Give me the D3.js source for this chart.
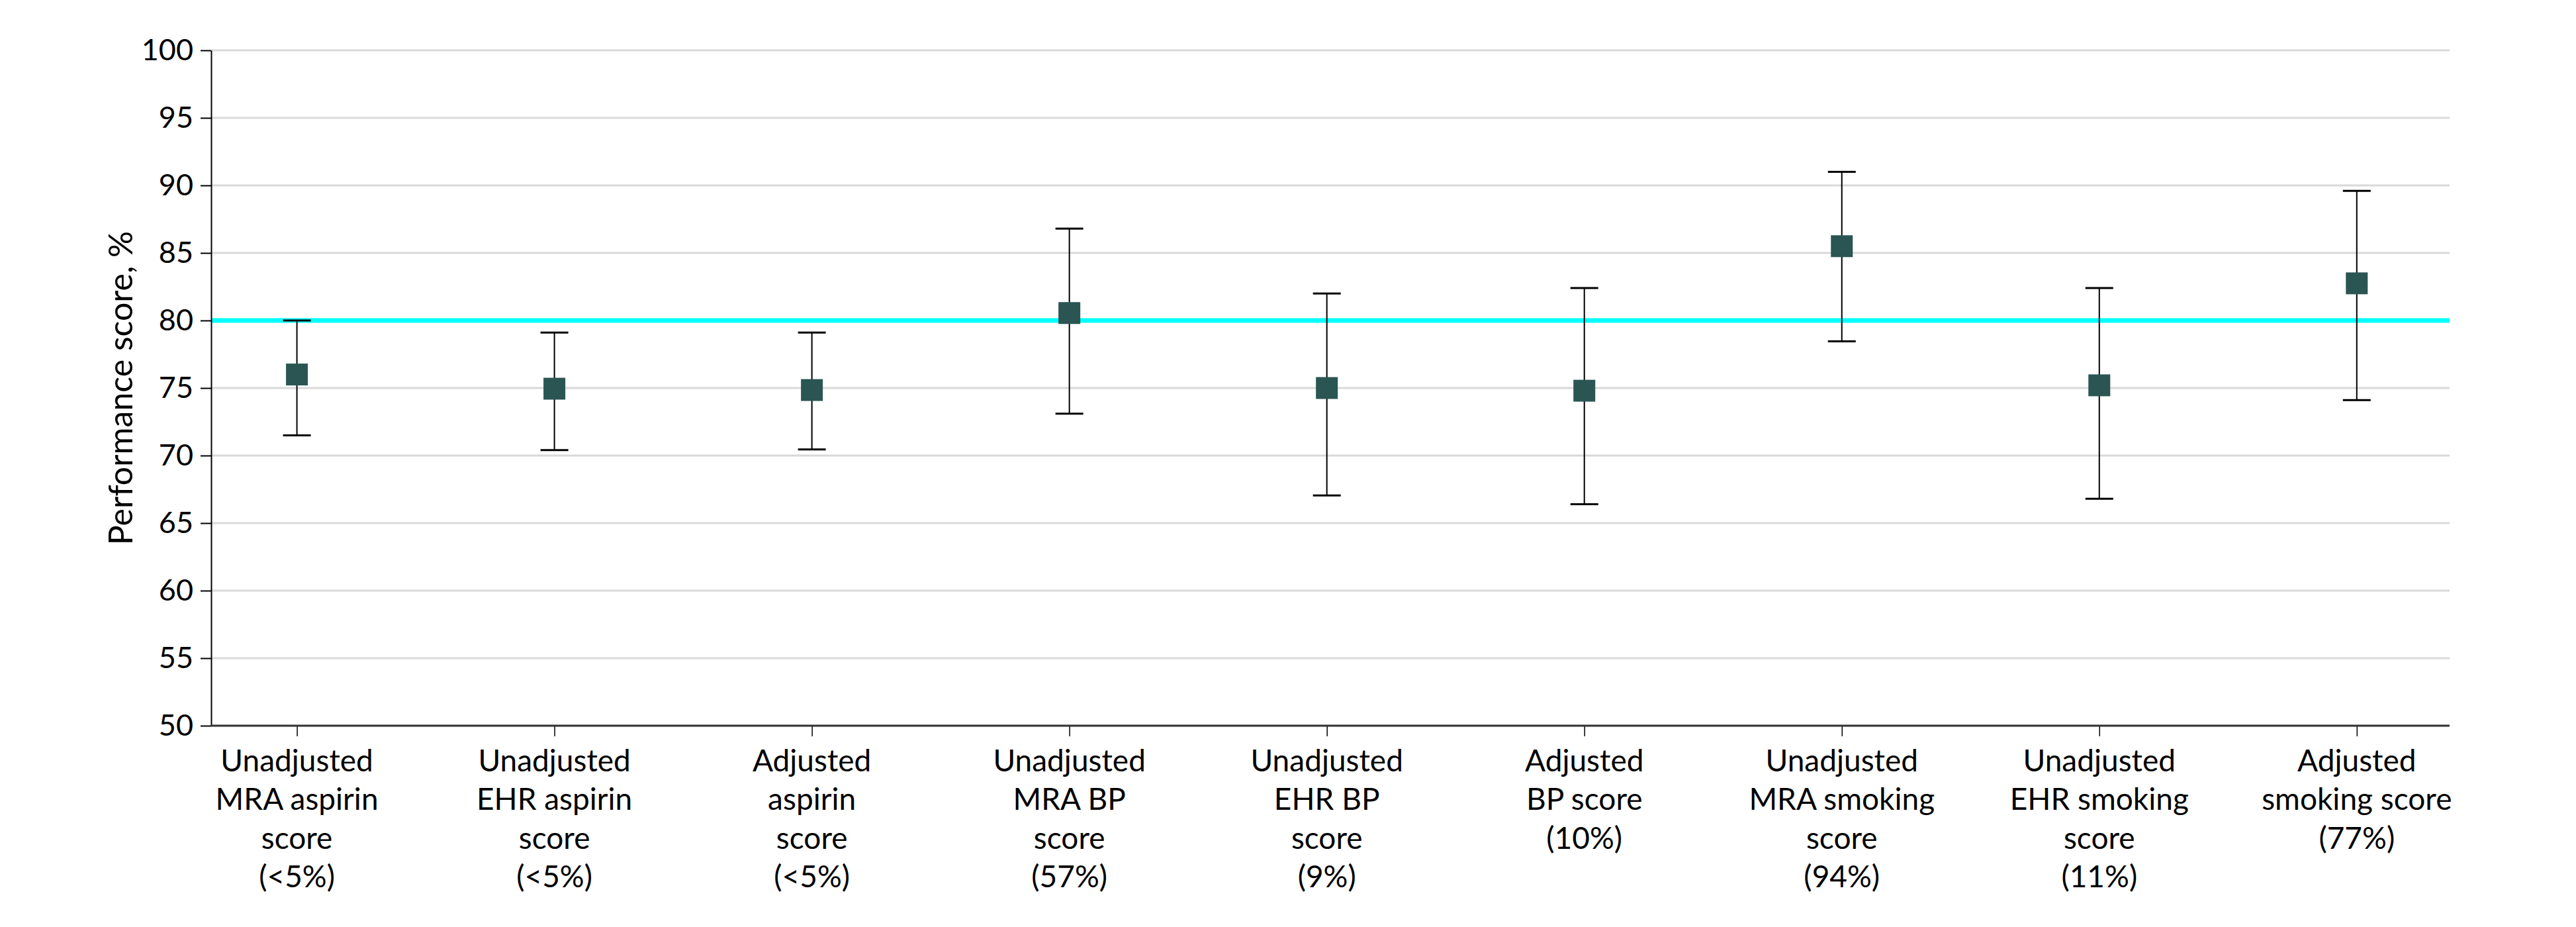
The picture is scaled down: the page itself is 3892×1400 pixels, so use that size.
<!DOCTYPE html>
<html>
<head>
<meta charset="utf-8">
<script src="https://cdn.jsdelivr.net/npm/d3@7"></script>
<style>
  html, body { margin: 0; padding: 0; background: #ffffff; }
  svg { display: block; }
  text { font-family: "Lato", "Open Sans", sans-serif; fill: #000; }
</style>
</head>
<body>
<svg id="chart" width="3892" height="1400"></svg>
<script>
// ---- data ----
const categories = [
  ["Unadjusted", "MRA aspirin", "score", "(<5%)"],
  ["Unadjusted", "EHR aspirin", "score", "(<5%)"],
  ["Adjusted", "aspirin", "score", "(<5%)"],
  ["Unadjusted", "MRA BP", "score", "(57%)"],
  ["Unadjusted", "EHR BP", "score", "(9%)"],
  ["Adjusted", "BP score", "(10%)"],
  ["Unadjusted", "MRA smoking", "score", "(94%)"],
  ["Unadjusted", "EHR smoking", "score", "(11%)"],
  ["Adjusted", "smoking score", "(77%)"]
];
const scores = [76.0, 74.95, 74.85, 80.55, 75.0, 74.8, 85.5, 75.2, 82.75];
const lowerCI = [71.5, 70.4, 70.45, 73.1, 67.05, 66.4, 78.45, 66.8, 74.1];
const upperCI = [80.0, 79.1, 79.1, 86.8, 82.0, 82.4, 91.0, 82.4, 89.6];
const yTicks = [50, 55, 60, 65, 70, 75, 80, 85, 90, 95, 100];
const benchmark = 80;
const yTitle = "Performance score, %";

// ---- layout ----
const plotLeft = 319, plotRight = 3701, plotTop = 76, plotBottom = 1096;
const svg = d3.select("#chart");

const y = d3.scaleLinear().domain([50, 100]).range([plotBottom, plotTop]);
const x = d3.scalePoint()
  .domain(d3.range(categories.length))
  .range([448.6, 3560.8]);

// gridlines
svg.append("g")
  .selectAll("line")
  .data(yTicks)
  .join("line")
  .attr("x1", plotLeft).attr("x2", plotRight)
  .attr("y1", d => y(d)).attr("y2", d => y(d))
  .attr("stroke", "#d9d9d9")
  .attr("stroke-width", 3);

// benchmark line
svg.append("line")
  .attr("x1", plotLeft).attr("x2", plotRight)
  .attr("y1", y(benchmark)).attr("y2", y(benchmark))
  .attr("stroke", "#00ffff")
  .attr("stroke-width", 7);

// y axis
const yAxis = svg.append("g")
  .attr("transform", `translate(${plotLeft},0)`)
  .call(d3.axisLeft(y).tickValues(yTicks).tickSize(16).tickPadding(11).tickSizeOuter(0));
yAxis.select(".domain").attr("stroke", "#000").attr("stroke-width", 2);
yAxis.selectAll(".tick line").attr("stroke", "#000").attr("stroke-width", 2);
yAxis.selectAll(".tick text").attr("font-size", 45).attr("font-family", "Lato, 'Open Sans', sans-serif");

// x axis
const xAxis = svg.append("g")
  .attr("transform", `translate(0,${plotBottom})`)
  .call(d3.axisBottom(x).tickSize(16).tickFormat(""));
xAxis.select(".domain").remove();
xAxis.selectAll(".tick line").attr("stroke", "#000").attr("stroke-width", 1.5);
svg.append("line")
  .attr("x1", plotLeft).attr("x2", plotRight)
  .attr("y1", plotBottom).attr("y2", plotBottom)
  .attr("stroke", "#333")
  .attr("stroke-width", 3);

// x labels
const labels = svg.append("g");
categories.forEach((lines, i) => {
  const t = labels.append("text")
    .attr("text-anchor", "middle")
    .attr("font-size", 46)
    .attr("x", x(i))
    .attr("y", 1165);
  lines.forEach((ln, k) => {
    t.append("tspan").attr("x", x(i)).attr("dy", k === 0 ? 0 : 58.3).text(ln);
  });
});

// y title
svg.append("text")
  .attr("transform", `translate(200,${(plotTop + plotBottom) / 2}) rotate(-90)`)
  .attr("text-anchor", "middle")
  .attr("font-size", 50)
  .text(yTitle);

// error bars
const capHalf = 21;
const bars = svg.append("g");
scores.forEach((s, i) => {
  bars.append("line")
    .attr("x1", x(i)).attr("x2", x(i))
    .attr("y1", y(lowerCI[i])).attr("y2", y(upperCI[i]))
    .attr("stroke", "#000").attr("stroke-width", 2);
  [lowerCI[i], upperCI[i]].forEach(v => {
    bars.append("line")
      .attr("x1", x(i) - capHalf).attr("x2", x(i) + capHalf)
      .attr("y1", y(v)).attr("y2", y(v))
      .attr("stroke", "#000").attr("stroke-width", 3);
  });
});

// markers
const size = 33;
svg.append("g")
  .selectAll("rect")
  .data(scores)
  .join("rect")
  .attr("x", (d, i) => x(i) - size / 2)
  .attr("y", d => y(d) - size / 2)
  .attr("width", size)
  .attr("height", size)
  .attr("fill", "#2a5553");
</script>
</body>
</html>
